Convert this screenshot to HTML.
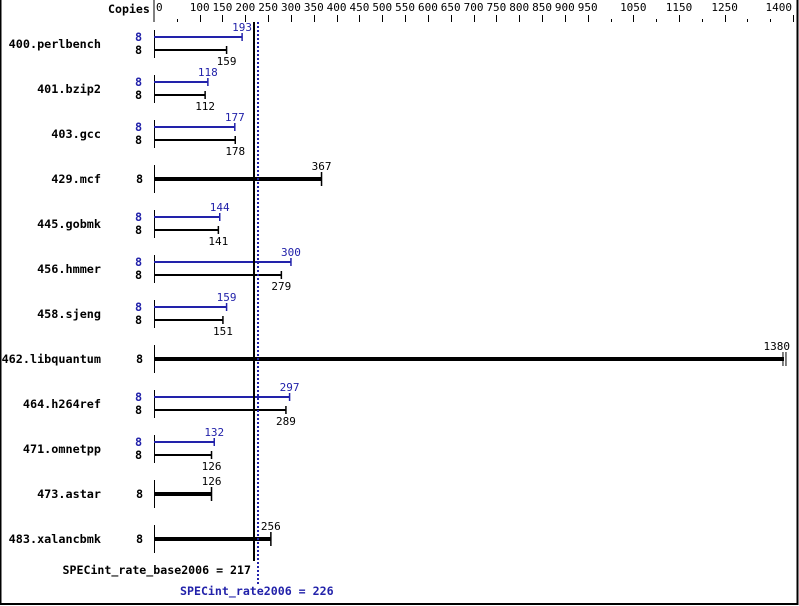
<!DOCTYPE html>
<html><head><meta charset="utf-8"><style>
html,body{margin:0;padding:0;background:#fff}
svg{display:block}
text{font-family:"DejaVu Sans Mono","Liberation Mono",monospace;font-size:11px}
.b{font-weight:bold;font-size:11.6px}
.n{font-weight:bold;font-size:11.8px}
</style></head><body>
<svg id="s" width="799" height="606" xmlns="http://www.w3.org/2000/svg"></svg>
<script>
const S=document.getElementById('s');
const X=v=>154+v*0.4565;
let h='';
const BL='#2222aa';
h+='<rect x="0.5" y="-2" width="797" height="606" fill="none" stroke="#000" stroke-width="2"/>';
h+='<text x="108" y="13" class="b">Copies</text>';
h+='<line x1="154" y1="0" x2="154" y2="22" stroke="#000"/>';
const labs=[0,100,150,200,250,300,350,400,450,500,550,600,650,700,750,800,850,900,950,1050,1150,1250];
labs.forEach(v=>{h+=`<text x="${v==0?156:X(v)}" y="11" text-anchor="${v==0?'start':'middle'}" font-size="10">${v}</text>`;});
h+=`<text x="${X(1380)+8}" y="11" text-anchor="end" font-size="10">1400</text>`;
for(let v=50;v<=1400;v+=50){const long=(v>=100&&v<=950)||v==1050||v==1150||v==1250||v==1400;
const x=Math.round(X(v))+0.5;h+=`<line x1="${x}" y1="${long?15:19}" x2="${x}" y2="22" stroke="#000"/>`;}
const d=[["400.perlbench",159,193],["401.bzip2",112,118],["403.gcc",178,177],["429.mcf",367,null],["445.gobmk",141,144],["456.hmmer",279,300],["458.sjeng",151,159],["462.libquantum",1380,null],["464.h264ref",289,297],["471.omnetpp",126,132],["473.astar",126,null],["483.xalancbmk",256,null]];
d.forEach((r,i)=>{const c=44+i*45;
h+=`<text x="101" y="${c+4}" text-anchor="end" class="n">${r[0]}</text>`;
h+=`<line x1="154.5" y1="${c-14}" x2="154.5" y2="${c+14}" stroke="#000"/>`;
if(r[2]===null){const xe=X(r[1]);
h+=`<text x="136" y="${c+4}" class="n">8</text>`;
h+=`<rect x="154" y="${c-2}" width="${xe-154}" height="4" fill="#000"/>`;
if(r[1]==1380){h+=`<line x1="${xe-1}" y1="${c-7}" x2="${xe-1}" y2="${c+7}" stroke="#000"/><line x1="${xe+2}" y1="${c-7}" x2="${xe+2}" y2="${c+7}" stroke="#000"/>`;
h+=`<text x="${xe+6}" y="${c-9}" text-anchor="end">${r[1]}</text>`;}
else{h+=`<line x1="${xe}" y1="${c-7}" x2="${xe}" y2="${c+7}" stroke="#000" stroke-width="1.5"/>`;
h+=`<text x="${xe}" y="${c-9}" text-anchor="middle">${r[1]}</text>`;}
}else{const xp=X(r[2]),xb=X(r[1]),yp=c-7,yb=c+6;
h+=`<text x="135" y="${yp+4}" class="n" fill="${BL}">8</text><text x="135" y="${yb+4}" class="n">8</text>`;
h+=`<rect x="154" y="${yp-1}" width="${xp-154}" height="2" fill="${BL}"/><line x1="${xp}" y1="${yp-4}" x2="${xp}" y2="${yp+4}" stroke="${BL}" stroke-width="1.5"/>`;
h+=`<rect x="154" y="${yb-1}" width="${xb-154}" height="2" fill="#000"/><line x1="${xb}" y1="${yb-4}" x2="${xb}" y2="${yb+4}" stroke="#000" stroke-width="1.5"/>`;
h+=`<text x="${xp}" y="${yp-6}" text-anchor="middle" fill="${BL}">${r[2]}</text>`;
h+=`<text x="${xb}" y="${yb+15}" text-anchor="middle">${r[1]}</text>`;}
});
h+=`<line x1="254" y1="22" x2="254" y2="561" stroke="#000" stroke-width="2"/>`;
h+=`<line x1="258" y1="22" x2="258" y2="584" stroke="${BL}" stroke-width="2" stroke-dasharray="2,2"/>`;
h+=`<text x="251" y="574" text-anchor="end" class="b">SPECint_rate_base2006 = 217</text>`;
h+=`<text x="180" y="595" class="b" fill="${BL}">SPECint_rate2006 = 226</text>`;
S.innerHTML=h;
</script>
</body></html>
